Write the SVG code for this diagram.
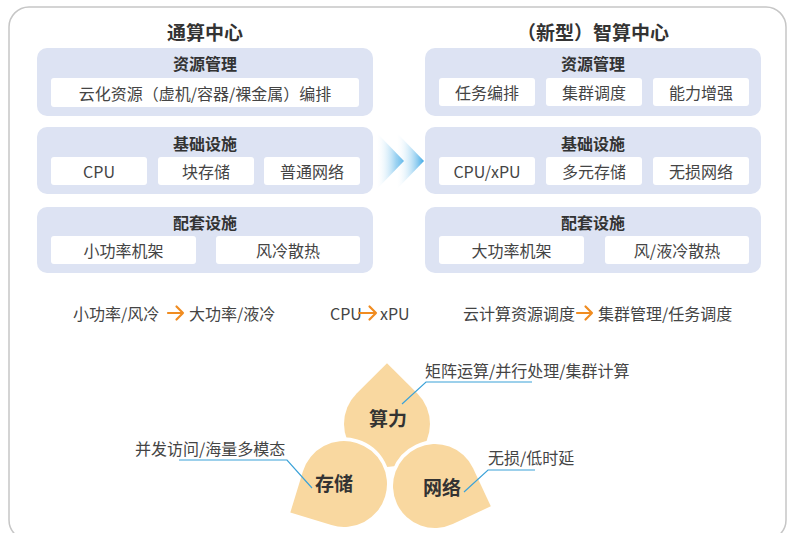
<svg xmlns="http://www.w3.org/2000/svg" width="787" height="533" viewBox="0 0 787 533">
  <defs>
    <style>
      text { font-family: "Noto Sans CJK SC", "Noto Sans", sans-serif; dominant-baseline: central; }
      .frame { fill: none; stroke: #c6c6c6; stroke-width: 1.5; }
      .panel { fill: #dde3f3; }
      .box { fill: #ffffff; }
      .title { font-size: 19px; font-weight: bold; fill: #333; text-anchor: middle; }
      .ptitle { font-size: 16px; font-weight: bold; fill: #333; text-anchor: middle; }
      .item { font-size: 16px; fill: #444; text-anchor: middle; }
      .note { font-size: 16px; fill: #444; }
      .petal { fill: #f9d8a0; }
      .petal-over { stroke: #ffffff; stroke-width: 7; paint-order: stroke; }
      .plabel { font-size: 19px; font-weight: bold; fill: #333; text-anchor: middle; }
      .lead { fill: none; stroke: #3ba2d8; stroke-width: 1.2; }
      .turn { fill: none; stroke: #f08c21; stroke-width: 2.2; stroke-linecap: round; stroke-linejoin: round; }
    </style>
    <linearGradient id="chev" x1="0" y1="0" x2="1" y2="0">
      <stop offset="0" stop-color="#ffffff" stop-opacity="0"/>
      <stop offset="1" stop-color="#3ea8e5"/>
    </linearGradient>
    <!-- drop shape: circle with one square corner pointing up-left -->
    <path id="drop43" d="M0,-43 A43,43 0 1 1 -43,0 L-43,-43 Z"/>
    <path id="drop42" d="M0,-42 A42,42 0 1 1 -42,0 L-42,-42 Z"/>
  </defs>

  <!-- outer frame -->
  <rect class="frame" x="9" y="7" width="777" height="533" rx="20"/>

  <!-- general computing centre -->
  <g id="general-center">
    <text class="title" x="205" y="31">通算中心</text>
    <g id="g-resource">
      <rect class="panel" x="37" y="48" width="336" height="68" rx="10"/>
      <text class="ptitle" x="205" y="63">资源管理</text>
      <rect class="box" x="51" y="78" width="308" height="29" rx="3"/>
      <text class="item" x="205" y="92.5">云化资源（虚机/容器/裸金属）编排</text>
    </g>
    <g id="g-infra">
      <rect class="panel" x="37" y="127" width="336" height="67" rx="10"/>
      <text class="ptitle" x="205" y="143">基础设施</text>
      <rect class="box" x="51" y="157" width="96" height="28" rx="3"/>
      <text class="item" x="99" y="171">CPU</text>
      <rect class="box" x="158" y="157" width="96" height="28" rx="3"/>
      <text class="item" x="206" y="171">块存储</text>
      <rect class="box" x="264" y="157" width="96" height="28" rx="3"/>
      <text class="item" x="312" y="171">普通网络</text>
    </g>
    <g id="g-support">
      <rect class="panel" x="37" y="207" width="336" height="66" rx="10"/>
      <text class="ptitle" x="205" y="222">配套设施</text>
      <rect class="box" x="51" y="236" width="145" height="28" rx="3"/>
      <text class="item" x="123.5" y="250">小功率机架</text>
      <rect class="box" x="216" y="236" width="144" height="28" rx="3"/>
      <text class="item" x="288" y="250">风冷散热</text>
    </g>
  </g>

  <!-- transition chevrons -->
  <g id="transition">
    <polygon points="376,132 404,161 376,190" fill="url(#chev)"/>
    <polygon points="396,132 424,161 396,190" fill="url(#chev)"/>
  </g>

  <!-- intelligent computing centre -->
  <g id="ai-center">
    <text class="title" x="593" y="31">（新型）智算中心</text>
    <g id="a-resource">
      <rect class="panel" x="425" y="48" width="336" height="68" rx="10"/>
      <text class="ptitle" x="593" y="63">资源管理</text>
      <rect class="box" x="439" y="78" width="96" height="28" rx="3"/>
      <text class="item" x="487" y="92">任务编排</text>
      <rect class="box" x="546" y="78" width="96" height="28" rx="3"/>
      <text class="item" x="594" y="92">集群调度</text>
      <rect class="box" x="653" y="78" width="96" height="28" rx="3"/>
      <text class="item" x="701" y="92">能力增强</text>
    </g>
    <g id="a-infra">
      <rect class="panel" x="425" y="127" width="336" height="67" rx="10"/>
      <text class="ptitle" x="593" y="143">基础设施</text>
      <rect class="box" x="439" y="157" width="96" height="28" rx="3"/>
      <text class="item" x="487" y="171">CPU/xPU</text>
      <rect class="box" x="546" y="157" width="96" height="28" rx="3"/>
      <text class="item" x="594" y="171">多元存储</text>
      <rect class="box" x="653" y="157" width="96" height="28" rx="3"/>
      <text class="item" x="701" y="171">无损网络</text>
    </g>
    <g id="a-support">
      <rect class="panel" x="425" y="207" width="336" height="66" rx="10"/>
      <text class="ptitle" x="593" y="222">配套设施</text>
      <rect class="box" x="439" y="236" width="145" height="28" rx="3"/>
      <text class="item" x="511.5" y="250">大功率机架</text>
      <rect class="box" x="605" y="236" width="144" height="28" rx="3"/>
      <text class="item" x="677" y="250">风/液冷散热</text>
    </g>
  </g>

  <!-- change summary row -->
  <g id="changes">
    <text class="note" x="73" y="313">小功率/风冷</text>
    <path class="turn" d="M168,313 H183 M176.5,306.5 L183,313 L176.5,319.5"/>
    <text class="note" x="189" y="313">大功率/液冷</text>

    <text class="note" x="330" y="313">CPU</text>
    <path class="turn" d="M359,313 H376 M369.5,306.5 L376,313 L369.5,319.5"/>
    <text class="note" x="380" y="313">xPU</text>

    <text class="note" x="463" y="313">云计算资源调度</text>
    <path class="turn" d="M577,313 H592 M585.5,306.5 L592,313 L585.5,319.5"/>
    <text class="note" x="598" y="313">集群管理/任务调度</text>
  </g>

  <!-- three pillars -->
  <g id="compute">
    <use href="#drop43" class="petal" transform="translate(387,424) rotate(45)"/>
    <text class="plabel" x="388" y="417">算力</text>
  </g>
  <g id="storage">
    <use href="#drop43" class="petal petal-over" transform="translate(344,484) rotate(-73)"/>
    <text class="plabel" x="334" y="482">存储</text>
  </g>
  <g id="network">
    <use href="#drop42" class="petal petal-over" transform="translate(435,486) rotate(155)"/>
    <text class="plabel" x="442" y="486">网络</text>
  </g>

  <!-- callouts -->
  <g id="callouts">
    <polyline class="lead" points="179,460 287,460 312,488"/>
    <text class="note" x="135" y="448">并发访问/海量多模态</text>
    <polyline class="lead" points="532,382 426,382 402,404"/>
    <text class="note" x="425" y="370">矩阵运算/并行处理/集群计算</text>
    <polyline class="lead" points="535,470 488,470 464,492"/>
    <text class="note" x="488" y="457">无损/低时延</text>
  </g>
</svg>
